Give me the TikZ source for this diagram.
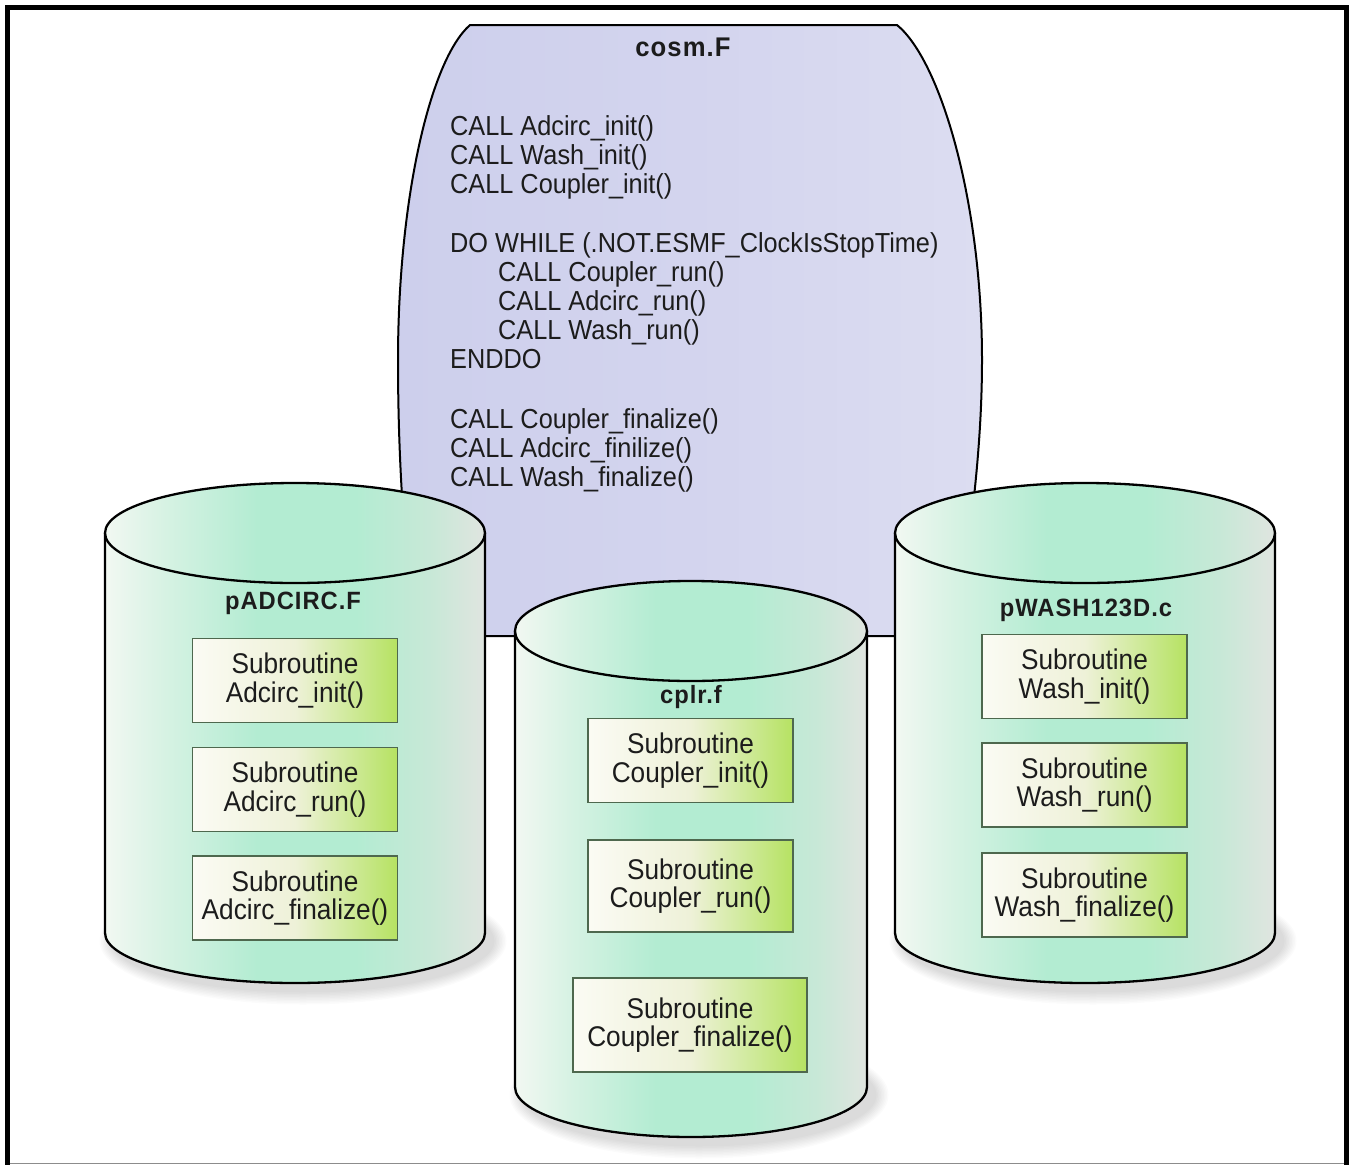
\documentclass[tikz,border=0pt]{standalone}
\usepackage{fontspec}
\setmainfont[FakeStretch=0.92]{Liberation Sans}
\newfontfamily\ttlfont[FakeStretch=0.95,LetterSpace=4]{Liberation Sans}
\definecolor{cylA}{HTML}{F2F8F2}
\definecolor{cylB}{HTML}{D6F2E3}
\definecolor{cylC}{HTML}{B3ECD2}
\definecolor{cylD}{HTML}{C8E8D7}
\definecolor{cylE}{HTML}{E0E5E0}
\definecolor{boxA}{HTML}{FBFBF4}
\definecolor{boxB}{HTML}{EEF1D8}
\definecolor{boxC}{HTML}{D0EA9C}
\definecolor{boxD}{HTML}{B6E262}
\definecolor{lavA}{HTML}{CDCFEC}
\definecolor{lavB}{HTML}{D3D4EE}
\definecolor{lavC}{HTML}{DCDDF1}
\definecolor{txt}{HTML}{1C1C1C}
\definecolor{boxline}{HTML}{4E684E}
\pgfdeclarehorizontalshading{cylsh}{100bp}{color(0bp)=(cylA); color(25bp)=(cylA); color(33bp)=(cylB); color(45bp)=(cylC); color(58bp)=(cylC); color(68bp)=(cylD); color(75bp)=(cylE); color(100bp)=(cylE)}
\pgfdeclarehorizontalshading{boxsh}{100bp}{color(0bp)=(boxA); color(25bp)=(boxA); color(50bp)=(boxB); color(63bp)=(boxC); color(75bp)=(boxD); color(100bp)=(boxD)}
\pgfdeclarehorizontalshading{lavsh}{100bp}{color(0bp)=(lavA); color(25bp)=(lavA); color(50bp)=(lavB); color(75bp)=(lavC); color(100bp)=(lavC)}
\tikzset{
  subbox/.style={draw=boxline, line width=1.3pt, shade, shading=boxsh, minimum width=205pt, minimum height=84pt, inner sep=0pt, align=center, text=txt, font=\fontsize{28.5}{28.5}\selectfont},
  codeline/.style={anchor=base west, inner sep=0pt, text=txt, font=\fontsize{27.5}{29}\selectfont},
  titlelbl/.style={inner sep=0pt, text=txt, font=\ttlfont\bfseries\fontsize{25}{25}\selectfont},
  outline/.style={draw=black, line width=2.3pt},
}
\newcommand{\mycyl}[4]{%
  \foreach \k in {1,...,9} {\fill[black,opacity=0.016] (#1+8,#4+8) ellipse[x radius=#2+\k*1.5, y radius=50+\k*1.5];}
  \path[shade, shading=cylsh] (#1-#2,#3) -- (#1-#2,#4) arc[start angle=180,end angle=0,x radius=#2,y radius=50] -- (#1+#2,#3) arc[start angle=0,end angle=-180,x radius=#2,y radius=50] -- cycle;
  \draw[outline] (#1-#2,#3) -- (#1-#2,#4) arc[start angle=180,end angle=0,x radius=#2,y radius=50] -- (#1+#2,#3);
  \draw[outline, shade, shading=cylsh] (#1,#3) ellipse[x radius=#2, y radius=50];
}
\begin{document}
\begin{tikzpicture}[x=1pt,y=-1pt]
\useasboundingbox (0,0) rectangle (1350,1165);
\fill[white] (0,0) rectangle (1350,1165);
% main program shape
\draw[outline, line width=2pt, shade, shading=lavsh] (470,25) -- (897,25)
  .. controls (940,60) and (982,200) .. (982,360)
  .. controls (982,450) and (970,540) .. (955,636)
  -- (415,636)
  .. controls (403,540) and (398,450) .. (398,360)
  .. controls (398,200) and (430,60) .. (470,25) -- cycle;
\node[titlelbl, font=\ttlfont\bfseries\fontsize{27}{27}\selectfont] (cosmt) at (683,47) {cosm.F};
\node[codeline] (c1) at (450,135) {CALL Adcirc\_init()};
\node[codeline] (c2) at (450,164) {CALL Wash\_init()};
\node[codeline] (c3) at (450,193) {CALL Coupler\_init()};
\node[codeline] (c4) at (450,252) {DO WHILE (.NOT.ESMF\_ClockIsStopTime)};
\node[codeline] (c5) at (498,281) {CALL Coupler\_run()};
\node[codeline] (c6) at (498,310) {CALL Adcirc\_run()};
\node[codeline] (c7) at (498,339) {CALL Wash\_run()};
\node[codeline] (c8) at (450,368) {ENDDO};
\node[codeline] (c9) at (450,428) {CALL Coupler\_finalize()};
\node[codeline] (c10) at (450,457) {CALL Adcirc\_finilize()};
\node[codeline] (c11) at (450,486) {CALL Wash\_finalize()};
% cylinders
\mycyl{295}{190}{533}{933}
\mycyl{1085}{190}{533}{933}
\mycyl{691}{176}{631}{1087}
% titles
\node[titlelbl] (padc) at (293,603) {pADCIRC.F};
\node[titlelbl] (cplr) at (691,697) {cplr.f};
\node[titlelbl] (pwash) at (1086,610) {pWASH123D.c};
% subroutine boxes
\node[subbox] (ai) at (295,680.5) {Subroutine\\Adcirc\_init()};
\node[subbox] (ar) at (295,789.5) {Subroutine\\Adcirc\_run()};
\node[subbox] (af) at (295,898) {Subroutine\\Adcirc\_finalize()};
\node[subbox] (ci) at (690.5,760.5) {Subroutine\\Coupler\_init()};
\node[subbox, minimum height=92pt] (cr) at (690.5,886) {Subroutine\\Coupler\_run()};
\node[subbox, minimum width=234pt, minimum height=94pt] (cf) at (690,1025) {Subroutine\\Coupler\_finalize()};
\node[subbox] (wi) at (1084.5,676.5) {Subroutine\\Wash\_init()};
\node[subbox] (wr) at (1084.5,785) {Subroutine\\Wash\_run()};
\node[subbox] (wf) at (1084.5,895) {Subroutine\\Wash\_finalize()};
% frame
\draw[black!45, line width=1.2pt] (5,1163.5) -- (1349,1163.5);
\draw[black, line width=5pt] (7.5,1165) -- (7.5,7.5) -- (1346.5,7.5) -- (1346.5,1165);
\end{tikzpicture}
\end{document}
